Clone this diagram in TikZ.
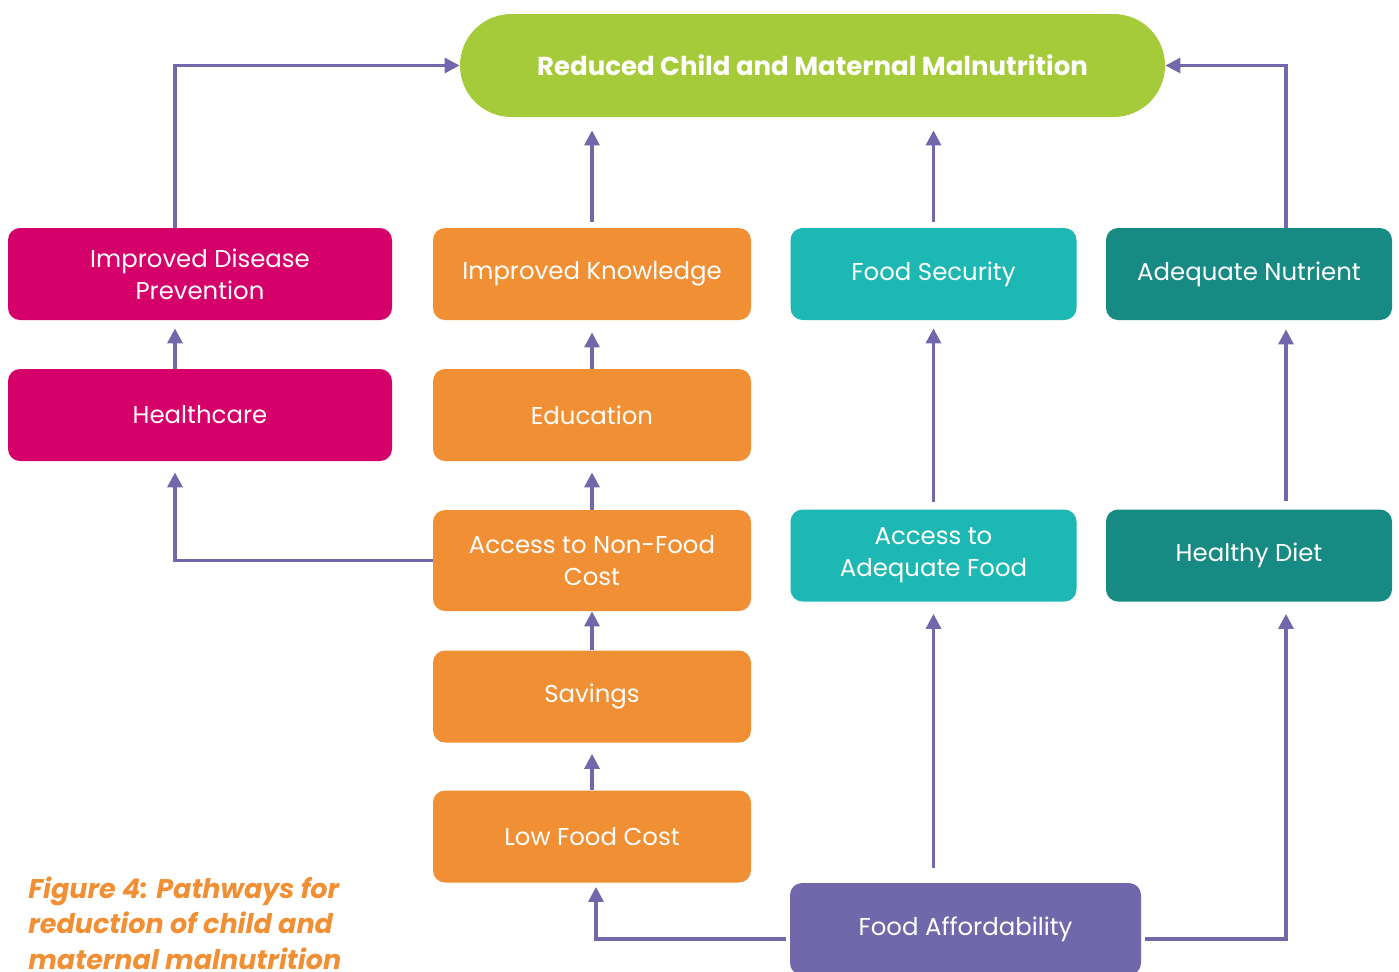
\documentclass[tikz,border=0pt]{standalone}
\usepackage{fontspec}
\setmainfont{Poppins}
\usepackage{tikz}
\usetikzlibrary{arrows.meta,positioning}
\definecolor{goalgreen}{HTML}{A5CA3A}
\definecolor{healthpink}{HTML}{D5006A}
\definecolor{knoworange}{HTML}{F18F34}
\definecolor{foodteal}{HTML}{1DB8B3}
\definecolor{dietteal}{HTML}{178A84}
\definecolor{linkpurple}{HTML}{7068AA}

\begin{document}
\begin{tikzpicture}[
    x=0.5pt, y=-0.5pt,
    box/.style={rectangle, rounded corners=6pt, text=white, align=center, inner sep=0,
        minimum height=46pt, font=\fontsize{12.2}{16}\selectfont},
    wide/.style={box, minimum width=192pt},
    mid/.style={box, minimum width=159pt},
    narrow/.style={box, minimum width=143pt},
    link/.style={draw=linkpurple, line width=1.6pt, -{Triangle[length=7.5pt,width=7.5pt]}},
    caption/.style={anchor=north west, align=left, inner sep=0, text=knoworange,
        font=\fontsize{13.5}{17.8}\selectfont\bfseries\itshape}]
\clip (0,0) rectangle (1399,971);

% goal
\node (GOAL) [box, fill=goalgreen, minimum width=352.5pt, minimum height=51.5pt,
    rounded corners=25.7pt, font=\fontsize{13}{16}\selectfont\bfseries] at (812.5,65.5)
    {Reduced Child and Maternal Malnutrition};

% health column
\node (DISP) [wide, fill=healthpink] at (200,274) {Improved Disease\\Prevention};
\node (HLTH) [wide, fill=healthpink] at (200,415) {Healthcare};

% knowledge column
\node (KNOW) [mid, fill=knoworange] at (592,274) {Improved Knowledge};
\node (EDUC) [mid, fill=knoworange] at (592,415) {Education};
\node (NONF) [mid, fill=knoworange, minimum height=50.5pt] at (592,560.5) {Access to Non-Food\\Cost};
\node (SAVE) [mid, fill=knoworange] at (592,696.5) {Savings};
\node (LOWC) [mid, fill=knoworange] at (592,836.5) {Low Food Cost};

% food columns
\node (FSEC) [narrow, fill=foodteal] at (933.5,274) {Food Security};
\node (AFOOD) [narrow, fill=foodteal] at (933.5,555.5) {Access to\\Adequate Food};
\node (NUTR) [narrow, fill=dietteal] at (1249,274) {Adequate Nutrient};
\node (DIET) [narrow, fill=dietteal] at (1249,555.5) {Healthy Diet};
\node (AFFD) [box, fill=linkpurple, minimum width=175.5pt] at (965.5,929) {Food Affordability};

\node (CAPT) [caption] at (28,876) {Figure 4: Pathways for\\reduction of child and\\maternal malnutrition};

% links
\path[link] ([xshift=-12.5pt]DISP.north) |- (GOAL.west);
\path[link, shorten <=3pt, shorten >=6.5pt] (KNOW.north) -- (KNOW.north |- GOAL.south);
\path[link, shorten <=3pt, shorten >=6.5pt] (FSEC.north) -- (FSEC.north |- GOAL.south);
\path[link] ([xshift=18.5pt]NUTR.north) |- (GOAL.east);
\path[link, shorten >=4pt] ([xshift=-12.5pt]HLTH.north) -- ([xshift=-12.5pt]DISP.south);
\path[link, shorten >=6pt] (EDUC.north) -- (KNOW.south);
\path[link, shorten >=5.5pt] (NONF.north) -- (EDUC.south);
\path[link, shorten >=5.5pt] (NONF.west) -| ([xshift=-12.5pt]HLTH.south);
\path[link] (SAVE.north) -- (NONF.south);
\path[link, shorten >=5.5pt] (LOWC.north) -- (SAVE.south);
\path[link, shorten <=2pt, shorten >=2pt] ([yshift=-5pt]AFFD.west) -| ([xshift=2pt]LOWC.south);
\path[link, shorten <=7.5pt, shorten >=6pt] (AFOOD.south |- AFFD.north) -- (AFOOD.south);
\path[link, shorten <=3.5pt, shorten >=4pt] (AFOOD.north) -- (FSEC.south);
\path[link, shorten <=4pt, shorten >=4.5pt] ([xshift=18.5pt]DIET.north) -- ([xshift=18.5pt]NUTR.south);
\path[link, shorten <=2pt, shorten >=6pt] ([yshift=-5pt]AFFD.east) -| ([xshift=18.5pt]DIET.south);

\end{tikzpicture}
\end{document}
